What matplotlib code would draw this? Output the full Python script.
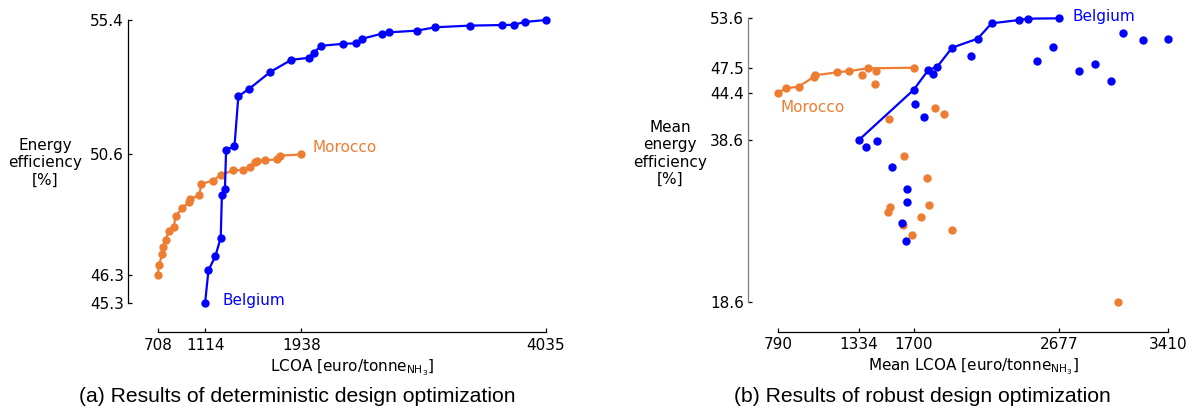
import matplotlib
matplotlib.use("Agg")
import matplotlib.pyplot as plt

# ---------------- data ----------------
# (a) deterministic
bel_a_lcoa = [1114, 1143, 1202, 1248, 1258, 1284, 1294, 1366, 1399, 1494, 1674, 1854,
              2005, 2047, 2109, 2296, 2411, 2460, 2627, 2692, 2928, 3085, 3380, 3658,
              3760, 3851, 4035]
bel_a_eff = [45.3, 46.47, 46.97, 47.63, 49.16, 49.36, 50.76, 50.9, 52.68, 52.95, 53.55, 53.98,
             54.05, 54.24, 54.48, 54.55, 54.57, 54.73, 54.91, 54.96, 55.02, 55.14, 55.2, 55.22,
             55.23, 55.33, 55.4]
mor_a_lcoa = [708, 718, 747, 757, 777, 803, 846, 862, 918, 973, 986, 1065, 1081, 1183,
              1248, 1353, 1441, 1500, 1543, 1559, 1625, 1730, 1759, 1938]
mor_a_eff = [46.3, 46.65, 47.04, 47.3, 47.56, 47.88, 48.02, 48.41, 48.68, 48.89, 49.0, 49.16,
             49.55, 49.67, 49.87, 50.03, 50.05, 50.17, 50.34, 50.37, 50.39, 50.43, 50.56, 50.6]
a_xticks = [708, 1114, 1938, 4035]
a_yticks = [45.3, 46.3, 50.6, 55.4]

# (b) robust: Pareto fronts (lines)
bel_b_lcoa = [1334, 1700, 1798, 1860, 1960, 2132, 2225, 2410, 2469, 2677]
bel_b_eff = [38.6, 44.75, 47.18, 47.63, 49.98, 51.09, 52.98, 53.39, 53.56, 53.6]
mor_b_lcoa = [790, 841, 926, 1032, 1037, 1183, 1268, 1392, 1700]
mor_b_eff = [44.4, 44.95, 45.16, 46.39, 46.56, 46.93, 47.09, 47.42, 47.5]
# (b) robust: other evaluated designs (scatter)
bel_b_sc_lcoa = [1379, 1451, 1831, 1708, 1772, 2088, 2531, 2641, 2816, 2924, 3032, 3107,
                 3243, 3410, 1554, 1657, 1659, 1623, 1646]
bel_b_sc_eff = [37.71, 38.41, 46.76, 43.02, 41.45, 48.91, 48.29, 50.02, 47.14, 48.0, 45.82,
                51.79, 50.88, 51.09, 35.19, 32.56, 30.91, 28.36, 26.05]
mor_b_sc_lcoa = [1351, 1448, 1443, 1533, 1844, 1908, 1638, 1793, 1803, 1541, 1528, 1749,
                 1626, 1687, 1962, 3073]
mor_b_sc_eff = [46.56, 47.05, 45.49, 41.12, 42.56, 41.78, 36.59, 33.88, 30.5, 30.29, 29.64,
                29.06, 28.03, 26.84, 27.45, 18.6]
b_xticks = [790, 1334, 1700, 2677, 3410]
b_yticks = [18.6, 38.6, 44.4, 47.5, 53.6]

BLUE = "#0000FF"
ORANGE = "#ED7D31"
W, H = 1198, 412

plt.rcParams['font.family'] = ['DejaVu Sans']
fig = plt.figure(figsize=(W / 100, H / 100), dpi=100)


def px_axes(l, r, t, b):
    return fig.add_axes([l / W, (H - b) / H, (r - l) / W, (b - t) / H])


def style(ax, xt, yt, left_color='black'):
    for s in ['top', 'right']:
        ax.spines[s].set_visible(False)
    ax.spines['left'].set_color(left_color)
    ax.spines['left'].set_bounds(min(yt), max(yt))
    ax.spines['bottom'].set_bounds(min(xt), max(xt))
    for s in ['left', 'bottom']:
        ax.spines[s].set_linewidth(0.9)
    ax.set_xticks(xt)
    ax.set_xticklabels([str(v) for v in xt])
    ax.set_yticks(yt)
    ax.set_yticklabels([f"{v:.1f}" for v in yt])
    ax.tick_params(direction='in', length=3, width=0.9, labelsize=11)
    ax.tick_params(axis='x', pad=4)
    ax.tick_params(axis='y', pad=3)
    ax.patch.set_visible(False)


# ---------- panel (a) ----------
axa = px_axes(128, 560, 10, 332.3)
axa.set_xlim(453.5, 4155)
axa.set_ylim(44.254, 55.757)
axa.plot(mor_a_lcoa, mor_a_eff, '-o', color=ORANGE, lw=1.6, ms=5)
axa.plot(bel_a_lcoa, bel_a_eff, '-o', color=BLUE, lw=1.6, ms=5)
style(axa, a_xticks, a_yticks)
fig.text(313 / W, 1 - 148 / H, "Morocco", color=ORANGE, fontsize=11, ha='left', va='center')
fig.text(222 / W, 1 - 301 / H, "Belgium", color=BLUE, fontsize=11, ha='left', va='center')
fig.text(45 / W, 1 - 163 / H, "Energy\nefficiency\n[%]", fontsize=11, ha='center', va='center',
         multialignment='center')
fig.text(352 / W, 1 - 368 / H, r"LCOA [euro/tonne$_{\mathrm{NH}_3}$]", fontsize=11,
         ha='center', va='center')
fig.text(297 / W, 1 - 397 / H, "(a) Results of deterministic design optimization",
         fontsize=15.2, family='Liberation Sans', ha='center', va='center')

# ---------- panel (b) ----------
axb = px_axes(748.3, 1190, 5, 331.7)
axb.set_xlim(588.1, 3560.5)
axb.set_ylim(14.895, 55.246)
axb.plot(mor_b_sc_lcoa, mor_b_sc_eff, 'o', color=ORANGE, ms=5)
axb.plot(mor_b_lcoa, mor_b_eff, '-o', color=ORANGE, lw=1.6, ms=5)
axb.plot(bel_b_sc_lcoa, bel_b_sc_eff, 'o', color=BLUE, ms=5)
axb.plot(bel_b_lcoa, bel_b_eff, '-o', color=BLUE, lw=1.6, ms=5)
style(axb, b_xticks, b_yticks, left_color='#808080')
fig.text(1072 / W, 1 - 16 / H, "Belgium", color=BLUE, fontsize=11, ha='left', va='center')
fig.text(781 / W, 1 - 108 / H, "Morocco", color=ORANGE, fontsize=11, ha='left', va='center')
fig.text(670 / W, 1 - 153.5 / H, "Mean\nenergy\nefficiency\n[%]", fontsize=11, ha='center',
         va='center', multialignment='center')
fig.text(973 / W, 1 - 367 / H, r"Mean LCOA [euro/tonne$_{\mathrm{NH}_3}$]", fontsize=11,
         ha='center', va='center')
fig.text(922.5 / W, 1 - 397 / H, "(b) Results of robust design optimization",
         fontsize=15.2, family='Liberation Sans', ha='center', va='center')

fig.savefig("out.png", dpi=100)
